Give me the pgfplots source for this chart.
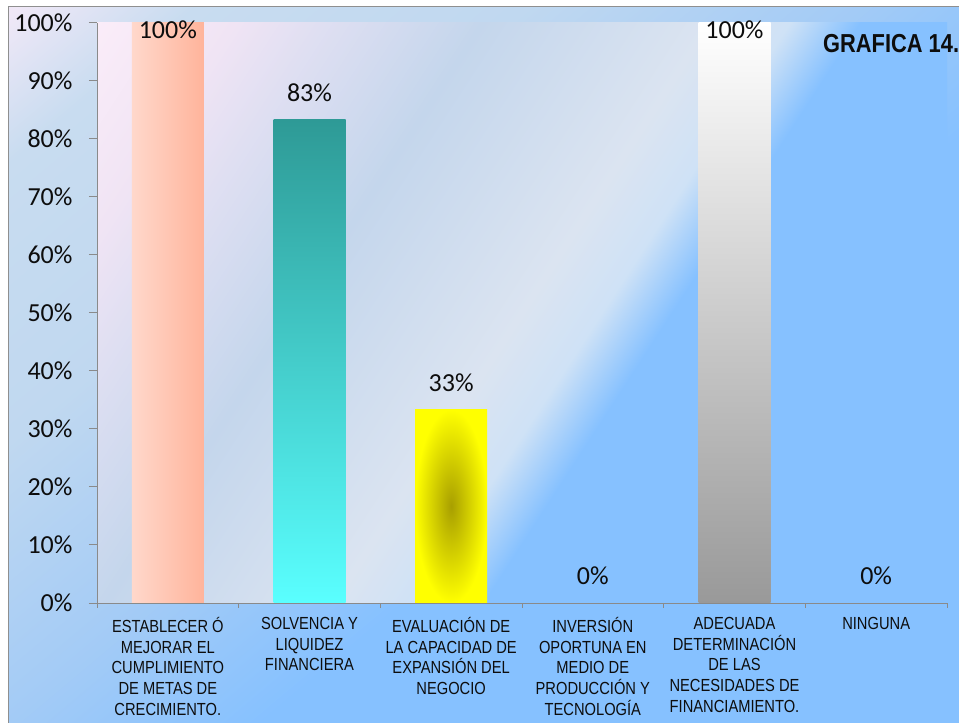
\documentclass[border=0pt]{standalone}
\usepackage{fontspec}
\setmainfont{Carlito}
\newfontfamily\narrow[FakeStretch=0.84]{Liberation Sans}
\usepackage{pgfplots}
\pgfplotsset{compat=1.18}

\definecolor{axisgray}{HTML}{8A8A8A}
\definecolor{bordergray}{HTML}{8F8F8F}
\definecolor{pbA}{HTML}{FBEDF9}
\definecolor{pbB}{HTML}{F0E4F4}
\definecolor{pbC}{HTML}{DFDFF2}
\definecolor{pbD}{HTML}{C4D6EC}
\definecolor{pbE}{HTML}{DBE4F1}
\definecolor{pbF}{HTML}{CFE2F6}
\definecolor{pbG}{HTML}{86C1FF}
\definecolor{obA}{HTML}{F0E8F7}
\definecolor{obB}{HTML}{C8DCF0}
\definecolor{obC}{HTML}{C0D8F0}
\definecolor{obD}{HTML}{A3CBF6}
\definecolor{obE}{HTML}{86C1FF}
\definecolor{peachL}{HTML}{FFD8CB}
\definecolor{peachR}{HTML}{FFB49B}
\definecolor{tealT}{HTML}{2E9A96}
\definecolor{tealB}{HTML}{5AFFFF}
\definecolor{yelIn}{HTML}{A89F00}
\definecolor{yelOut}{HTML}{FFFF00}
\definecolor{grayB}{HTML}{999999}
\definecolor{txt}{HTML}{0D0D0D}

\pgfdeclarehorizontalshading{plotbg}{100bp}{color(0bp)=(pbA); color(15bp)=(pbA); color(23bp)=(pbB); color(28bp)=(pbC); color(37bp)=(pbD); color(50bp)=(pbE); color(54.5bp)=(pbF); color(58.5bp)=(pbG); color(100bp)=(pbG)}
\pgfdeclarehorizontalshading{outerbg}{100bp}{color(0bp)=(obA); color(15bp)=(obA); color(22bp)=(obB); color(35bp)=(obC); color(48bp)=(obD); color(58bp)=(obE); color(100bp)=(obE)}

\begin{document}
\begin{tikzpicture}
\path[use as bounding box] (0,0) rectangle (959bp,723bp);
\fill[white] (0,0) rectangle (959bp,723bp);
\shade[shading=outerbg, shading angle=-50] (8bp,0) rectangle (959bp,716bp);
\draw[bordergray, line width=1bp] (8bp,-1bp) -- (8bp,716bp) -- (960bp,716bp);
\shade[shading=plotbg, shading angle=-33] (97bp,120bp) rectangle (947bp,700bp);
\begin{axis}[
  at={(97bp,120bp)}, anchor=south west,
  scale only axis, width=850bp, height=580bp,
  xmin=-0.5, xmax=5.5, ymin=0, ymax=100,
  axis lines*=left,
  axis line style={draw=axisgray, line width=1bp, -},
  tick pos=left,
  tick align=outside,
  major tick length=8bp, minor tick length=5bp,
  xtick={0,1,2,3,4,5},
  minor xtick={-0.5,0.5,1.5,2.5,3.5,4.5,5.5},
  every major x tick/.append style={draw=none},
  every minor x tick/.append style={draw=axisgray, line width=1bp},
  every major y tick/.append style={draw=axisgray, line width=1bp},
  xticklabels={
    {ESTABLECER Ó\\MEJORAR EL\\CUMPLIMIENTO\\DE METAS DE\\CRECIMIENTO.},
    {SOLVENCIA Y\\LIQUIDEZ\\FINANCIERA},
    {EVALUACIÓN DE\\LA CAPACIDAD DE\\EXPANSIÓN DEL\\NEGOCIO},
    {INVERSIÓN\\OPORTUNA EN\\MEDIO DE\\PRODUCCIÓN Y\\TECNOLOGÍA},
    {ADECUADA\\DETERMINACIÓN\\DE LAS\\NECESIDADES DE\\FINANCIAMIENTO.},
    {NINGUNA}},
  xticklabel style={font=\narrow\fontsize{17.5bp}{20.6bp}\selectfont, align=center, text=txt, yshift=-3bp},
  ytick={0,10,20,30,40,50,60,70,80,90,100},
  yticklabels={0\%,10\%,20\%,30\%,40\%,50\%,60\%,70\%,80\%,90\%,100\%},
  yticklabel style={font=\fontsize{26bp}{30bp}\selectfont, xshift=-13bp, text=txt},
  /pgf/number format/assume math mode=true,
  clip=false,
  nodes near coords={\pgfmathprintnumber[fixed,precision=0]{\pgfplotspointmeta}\%},
  every node near coord/.append style={font=\fontsize{26bp}{30bp}\selectfont, anchor=center, text=txt},
]
\addplot[ybar, bar width=72bp, bar shift=0pt, draw=none, left color=peachL, right color=peachR,
  every node near coord/.append style={yshift=-6.5bp}] coordinates {(0,100)};
\addplot[ybar, bar width=72bp, bar shift=0pt, draw=none, top color=tealT, bottom color=tealB,
  every node near coord/.append style={yshift=27bp}] coordinates {(1,83.33)};
\addplot[ybar, bar width=72bp, bar shift=0pt, draw=none, inner color=yelIn, outer color=yelOut,
  every node near coord/.append style={yshift=27bp}] coordinates {(2,33.33)};
\addplot[ybar, bar width=72bp, bar shift=0pt, draw=none, fill=none,
  every node near coord/.append style={yshift=27bp}] coordinates {(3,0)};
\addplot[ybar, bar width=72bp, bar shift=0pt, draw=none, top color=white, bottom color=grayB,
  every node near coord/.append style={yshift=-6.5bp}] coordinates {(4,100)};
\addplot[ybar, bar width=72bp, bar shift=0pt, draw=none, fill=none,
  every node near coord/.append style={yshift=27bp}] coordinates {(5,0)};
\end{axis}
\node[anchor=base west, font=\narrow\bfseries\fontsize{26bp}{30bp}\selectfont, text=txt, inner sep=0pt] at (823bp,670bp) {GRAFICA 14.};
\end{tikzpicture}
\end{document}
